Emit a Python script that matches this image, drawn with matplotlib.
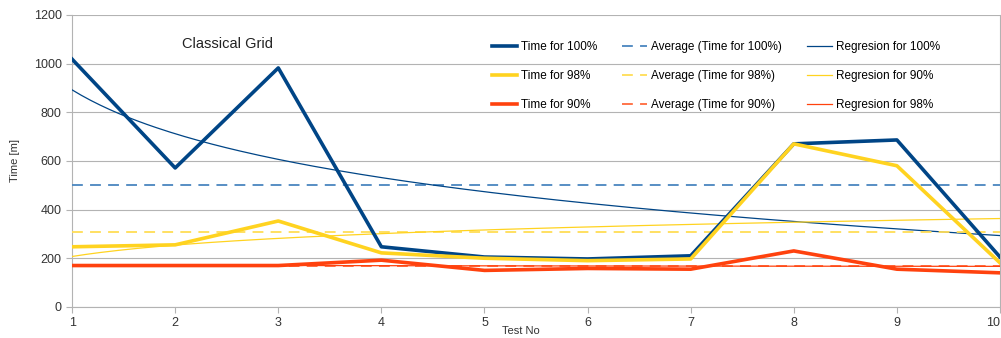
import matplotlib
matplotlib.use("Agg")
import matplotlib.pyplot as plt
import numpy as np

plt.rcParams["font.family"] = ["Liberation Sans", "DejaVu Sans"]

test_no = np.arange(1, 11)
time_100 = [1018, 571, 982, 247, 205, 197, 210, 670, 686, 205]
time_98 = [247, 255, 353, 222, 200, 190, 197, 670, 580, 181]
time_90 = [170, 170, 170, 192, 150, 158, 155, 230, 155, 140]

series = [
    ("Time for 100%", "Regresion for 100%", time_100, "#004586", "#4a86bf"),
    ("Time for 98%", "Regresion for 90%", time_98, "#ffd320", "#ffdd55"),
    ("Time for 90%", "Regresion for 98%", time_90, "#ff420e", "#ff6a3d"),
]

fig = plt.figure(figsize=(10.01, 3.38), dpi=100)
ax = fig.add_axes([0.072, 0.092, 0.927, 0.864])

main_h, avg_h, reg_h = [], [], []
for name, reg_name, vals, col, light in series:
    vals = np.array(vals, dtype=float)
    h, = ax.plot(test_no, vals, color=col, lw=2.6, zorder=4, label=name)
    main_h.append(h)
    a = ax.axhline(vals.mean(), color=light, lw=1.3, ls=(0, (6, 4)), zorder=3,
                   label=f"Average (Time for {name.split()[-1]})")
    avg_h.append(a)
    # logarithmic trend line
    b, c = np.polyfit(np.log(test_no), vals, 1)
    xs = np.linspace(1, 10, 200)
    r, = ax.plot(xs, c + b * np.log(xs), color=col, lw=0.9, zorder=3, label=reg_name)
    reg_h.append(r)

ax.set_xlim(1, 10)
ax.set_ylim(0, 1200)
ax.set_xticks(test_no)
ax.set_yticks(range(0, 1201, 200))
ax.grid(axis="y", color="#b3b3b3", lw=0.8)
ax.set_axisbelow(True)
ax.spines["top"].set_visible(False)
for s in ["left", "bottom", "right"]:
    ax.spines[s].set_color("#b3b3b3")
ax.tick_params(colors="#b3b3b3", labelcolor="#333333", labelsize=9, length=4)
ax.get_xticklabels()[-1].set_horizontalalignment("right")
ax.set_xlabel("Test No", fontsize=8, color="#333333")
ax.xaxis.set_label_coords(0.484, -0.065)
ax.set_ylabel("Time [m]", fontsize=8, color="#333333", labelpad=10)

ax.text(0.168, 0.9, "Classical Grid", transform=ax.transAxes, fontsize=10.5,
        ha="center", va="center", color="#222222")

handles = main_h + avg_h + reg_h
fig.legend(handles=handles, labels=[h.get_label() for h in handles], ncol=3,
           loc="upper left", bbox_to_anchor=(0.486, 0.895), frameon=False,
           fontsize=8.5, labelspacing=1.42, handlelength=2.1, handletextpad=0.35,
           columnspacing=2.1, borderpad=0)

fig.savefig("out.png", dpi=100)
